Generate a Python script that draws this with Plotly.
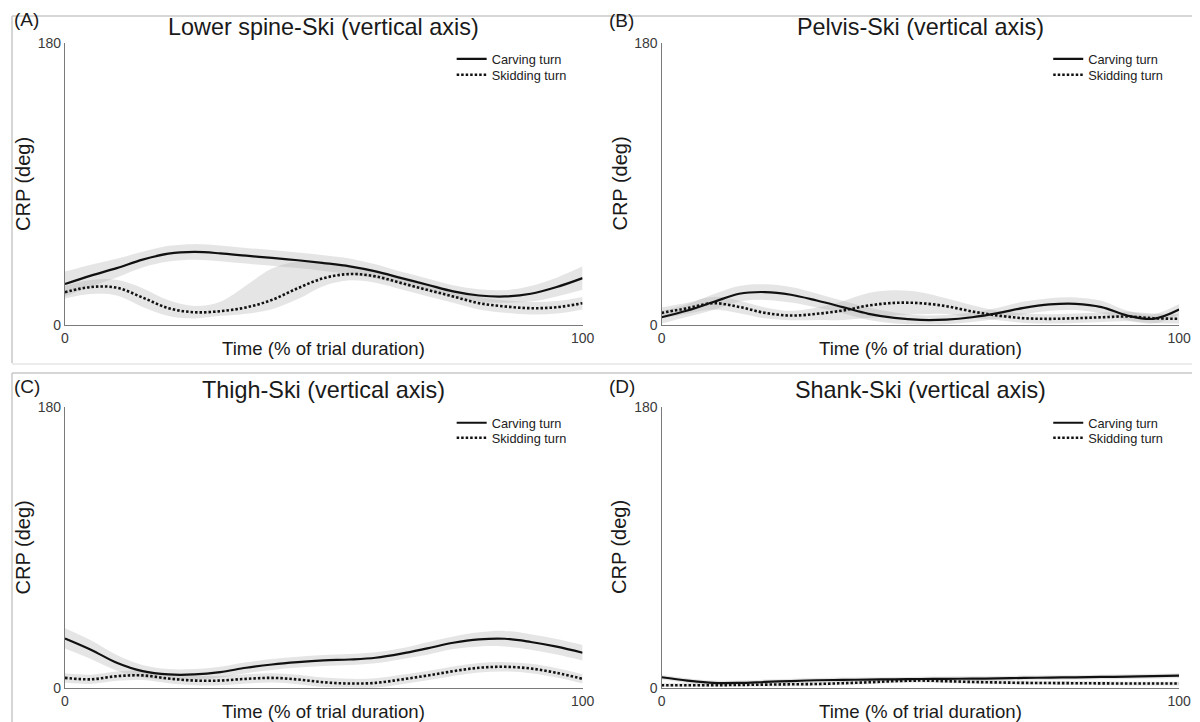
import plotly.graph_objects as go

# ---------------- data (CRP in degrees, time in % of trial) ----------------
time_pct = [0, 5, 10, 15, 20, 25, 30, 35, 40, 45, 50, 55, 60, 65, 70, 75, 80, 85, 90, 95, 100]

# (A) Lower spine-Ski
a_carv = [26.1, 31.5, 36.3, 41.7, 45.5, 46.6, 45.7, 44.2, 42.8, 41.3, 39.5, 37.4, 34.2, 29.9, 25.7, 21.4, 18.8, 18.2, 19.9, 24.2, 29.9]
a_carv_up = [8, 7, 6, 5, 5, 5, 5, 5, 5, 5, 5, 5, 4.5, 4, 4, 4, 4, 4, 5, 6, 7.5]
a_carv_dn = [8, 7, 6, 5, 5, 5, 5, 5, 5, 5, 5, 5, 4.5, 4, 4, 4, 4, 4, 5, 6, 7.5]
a_skid = [20.9, 24.2, 23.8, 17.5, 10.7, 8.1, 8.8, 11.2, 16.0, 23.5, 29.9, 32.5, 31.0, 26.7, 22.4, 18.2, 13.9, 11.8, 10.7, 11.3, 13.9]
a_skid_up = [4, 4.5, 5, 6, 5, 4, 6, 14, 20, 17, 9, 5, 4, 4, 4, 4, 4, 4, 4, 4, 4]
a_skid_dn = [4, 4.5, 5, 6, 5, 4, 3, 4, 6, 7, 5, 4, 4, 4, 4, 4, 4, 4, 4, 4, 4]

# (B) Pelvis-Ski
b_carv = [4.9, 9.2, 14.6, 19.9, 21.0, 19.3, 15.6, 11.4, 7.1, 4.5, 3.2, 3.4, 4.9, 7.5, 10.9, 13.1, 13.5, 11.4, 6.0, 3.9, 9.9]
b_carv_up = [4, 4, 5, 5, 5, 5, 4.5, 4, 4, 3.5, 3, 3, 3, 3.5, 4, 4, 4, 4, 3, 3, 3.5]
b_carv_dn = b_carv_up
b_skid = [7.7, 10.7, 13.9, 11.5, 7.7, 6.0, 7.1, 9.2, 12.4, 14.1, 13.9, 12.0, 8.6, 6.0, 4.3, 3.9, 4.3, 4.9, 5.4, 4.3, 3.9]
b_skid_up = [3.5, 3.5, 4, 4, 3.5, 3, 4, 6, 8, 8, 7, 5, 4, 3, 3, 3, 3, 3, 3, 3, 3]
b_skid_dn = b_skid_up

# (C) Thigh-Ski
c_carv = [31.7, 24.5, 16.1, 10.7, 8.6, 8.6, 10.1, 12.9, 15.0, 16.5, 17.6, 18.2, 19.3, 21.9, 25.3, 28.9, 31.1, 31.5, 29.4, 26.4, 22.5]
c_carv_up = [6.5, 6, 5, 4, 3.5, 3.5, 3.5, 3.5, 3.5, 3.5, 3.5, 3.5, 3.5, 3.5, 4, 4, 4.5, 5, 5, 5, 5]
c_carv_dn = c_carv_up
c_skid = [6.4, 5.5, 7.5, 8.0, 6.0, 4.7, 4.7, 5.8, 6.4, 5.4, 3.6, 2.8, 3.2, 5.4, 7.9, 10.7, 12.9, 13.5, 12.4, 9.6, 5.8]
c_skid_up = [3, 3, 3, 3, 3, 3, 3, 3, 3, 3, 3, 3, 3, 3, 3, 3, 3, 3, 3, 3, 3]
c_skid_dn = c_skid_up

# (D) Shank-Ski
d_carv = [6.8, 4.7, 3.2, 3.2, 3.8, 4.4, 4.9, 5.1, 5.3, 5.5, 5.7, 5.8, 5.9, 6.1, 6.4, 6.6, 6.8, 7.0, 7.2, 7.5, 7.9]
d_carv_up = [1.5, 1.5, 1.5, 1.5, 1.5, 1.5, 1.5, 1.5, 1.5, 1.5, 1.5, 1.5, 1.5, 1.5, 1.5, 1.5, 1.5, 1.5, 1.5, 1.5, 1.5]
d_carv_dn = d_carv_up
d_skid = [1.7, 1.7, 1.7, 1.9, 2.1, 2.3, 2.5, 3.0, 3.6, 4.3, 4.7, 4.3, 3.8, 3.5, 3.2, 3.1, 3.0, 2.9, 2.8, 2.8, 2.8]
d_skid_up = [1.2, 1.2, 1.2, 1.2, 1.2, 1.2, 1.2, 1.2, 1.2, 1.2, 1.2, 1.2, 1.2, 1.2, 1.2, 1.2, 1.2, 1.2, 1.2, 1.2, 1.2]
d_skid_dn = d_skid_up

panel_titles = ["Lower spine-Ski (vertical axis)", "Pelvis-Ski (vertical axis)",
                "Thigh-Ski (vertical axis)", "Shank-Ski (vertical axis)"]
panel_labels = ["(A)", "(B)", "(C)", "(D)"]
series_names = ["Carving turn", "Skidding turn"]
x_ticks = [0, 100]
y_ticks = [0, 180]
x_title = "Time (% of trial duration)"
y_title = "CRP (deg)"

panels = [
    (a_carv, a_carv_up, a_carv_dn, a_skid, a_skid_up, a_skid_dn),
    (b_carv, b_carv_up, b_carv_dn, b_skid, b_skid_up, b_skid_dn),
    (c_carv, c_carv_up, c_carv_dn, c_skid, c_skid_up, c_skid_dn),
    (d_carv, d_carv_up, d_carv_dn, d_skid, d_skid_up, d_skid_dn),
]

# ---------------- layout geometry ----------------
W, H = 1200, 722
# target positions are given in picture pixels; the page shows the figure with a
# small offset/scale, which these two helpers compensate (measured empirically)
SX, OX = 0.9874, 12.0
SY, OY = 0.978, 15.0
def fx(p):
    return min(max((p - OX) / SX / W, 0.0), 1.0)
def fy(p):
    return min(max(1 - (p - OY) / SY / H, 0.0), 1.0)

# (x_left, x_right, y_top, y_bottom) of each plot area, picture pixels
boxes = [(65, 583, 42, 324), (662, 1180, 42, 324), (65, 583, 406, 687), (662, 1180, 406, 687)]
title_y = [26, 26, 389, 389]
label_pos = [(10, 19), (607, 20), (10, 386), (607, 386)]
legend_x = [452, 1049, 452, 1049]
legend_y = [(58, 74), (58, 74), (422, 437), (422, 437)]

FONT = "Liberation Sans, Arial, Helvetica, sans-serif"
BAND = "rgba(175,175,175,0.33)"
LINE_STYLES = [dict(color="#111111", width=2.2),
               dict(color="#111111", width=2.6, dash="2.5px,2px")]

fig = go.Figure()
layout_axes = {}
annotations = []
legends = {}

for i, (carv, cu, cd, skid, su, sd) in enumerate(panels):
    n = "" if i == 0 else str(i + 1)
    xa, ya = "x" + n, "y" + n
    for mean, up, dn in ((carv, cu, cd), (skid, su, sd)):
        hi = [m + u for m, u in zip(mean, up)]
        lo = [max(m - d, 0.3) for m, d in zip(mean, dn)]
        fig.add_trace(go.Scatter(x=time_pct, y=hi, xaxis=xa, yaxis=ya, mode="lines",
                                 line=dict(width=0, shape="spline", smoothing=1),
                                 showlegend=False, hoverinfo="skip"))
        fig.add_trace(go.Scatter(x=time_pct, y=lo, xaxis=xa, yaxis=ya, mode="lines",
                                 line=dict(width=0, shape="spline", smoothing=1),
                                 fill="tonexty", fillcolor=BAND,
                                 showlegend=False, hoverinfo="skip"))
    for k, mean in enumerate((carv, skid)):
        leg = "legend%d" % (2 * i + k + 2)
        fig.add_trace(go.Scatter(x=time_pct, y=mean, xaxis=xa, yaxis=ya, mode="lines",
                                 name=series_names[k], legend=leg,
                                 line=dict(LINE_STYLES[k], shape="spline", smoothing=1)))
        legends[leg] = dict(x=fx(legend_x[i]), y=fy(legend_y[i][k]), xanchor="left", yanchor="middle",
                            bgcolor="rgba(0,0,0,0)", borderwidth=0, traceorder="normal",
                            font=dict(family=FONT, size=12.8, color="#222222"), itemwidth=30)

    x0, x1, y0, y1 = boxes[i]
    axis_common = dict(showgrid=False, zeroline=False, showline=True, linecolor="#7a7a7a",
                       linewidth=1.3, ticks="inside", ticklen=4, tickwidth=1.2,
                       tickcolor="#7a7a7a", tickfont=dict(family=FONT, size=14, color="#3a3a3a"),
                       fixedrange=True)
    layout_axes["xaxis" + n] = dict(axis_common, domain=[fx(x0), fx(x1)], range=[0, 100],
                                    tickvals=x_ticks, anchor=ya)
    layout_axes["yaxis" + n] = dict(axis_common, domain=[fy(y1), fy(y0)], range=[0, 180],
                                    tickvals=y_ticks, anchor=xa)

    cx = (x0 + x1) / 2
    annotations.append(dict(text=panel_titles[i], x=fx(cx), y=fy(title_y[i]), xref="paper", yref="paper",
                            xanchor="center", yanchor="middle", showarrow=False,
                            font=dict(family=FONT, size=23.4, color="#1a1a1a")))
    annotations.append(dict(text=x_title, x=fx(cx), y=fy(y1 + 24), xref="paper", yref="paper",
                            xanchor="center", yanchor="middle", showarrow=False,
                            font=dict(family=FONT, size=18.6, color="#1a1a1a")))
    annotations.append(dict(text=y_title, x=fx(x0 - 42), y=fy((y0 + y1) / 2), xref="paper", yref="paper",
                            xanchor="center", yanchor="middle", showarrow=False, textangle=-90,
                            font=dict(family=FONT, size=20, color="#1a1a1a")))
    lx, ly = label_pos[i]
    annotations.append(dict(text=panel_labels[i], x=fx(lx), y=fy(ly), xref="paper", yref="paper",
                            xanchor="left", yanchor="middle", showarrow=False,
                            font=dict(family=FONT, size=19, color="#1a1a1a")))

# the default legend is not used
legends["legend"] = dict(visible=False)

# light grey frame lines of the composite figure (picture pixels)
frame = [
    dict(x0=8, x1=1200, y0=9, y1=9, c="#c8c8c8"),
    dict(x0=8, x1=8, y0=9, y1=362, c="#c8c8c8"),
    dict(x0=8, x1=1200, y0=363, y1=363, c="#e6e6e6"),
    dict(x0=8, x1=1200, y0=372, y1=372, c="#c8c8c8"),
    dict(x0=8, x1=8, y0=372, y1=722, c="#c8c8c8"),
]
shapes = [dict(type="line", xref="paper", yref="paper", x0=fx(f["x0"]), x1=fx(f["x1"]),
               y0=fy(f["y0"]), y1=fy(f["y1"]), line=dict(color=f["c"], width=1.5), layer="below")
          for f in frame]

fig.update_layout(width=W, height=H, margin=dict(l=0, r=0, t=0, b=0),
                  paper_bgcolor="white", plot_bgcolor="white",
                  font=dict(family=FONT), annotations=annotations, shapes=shapes,
                  **layout_axes, **legends)

fig.write_html("out.html")
